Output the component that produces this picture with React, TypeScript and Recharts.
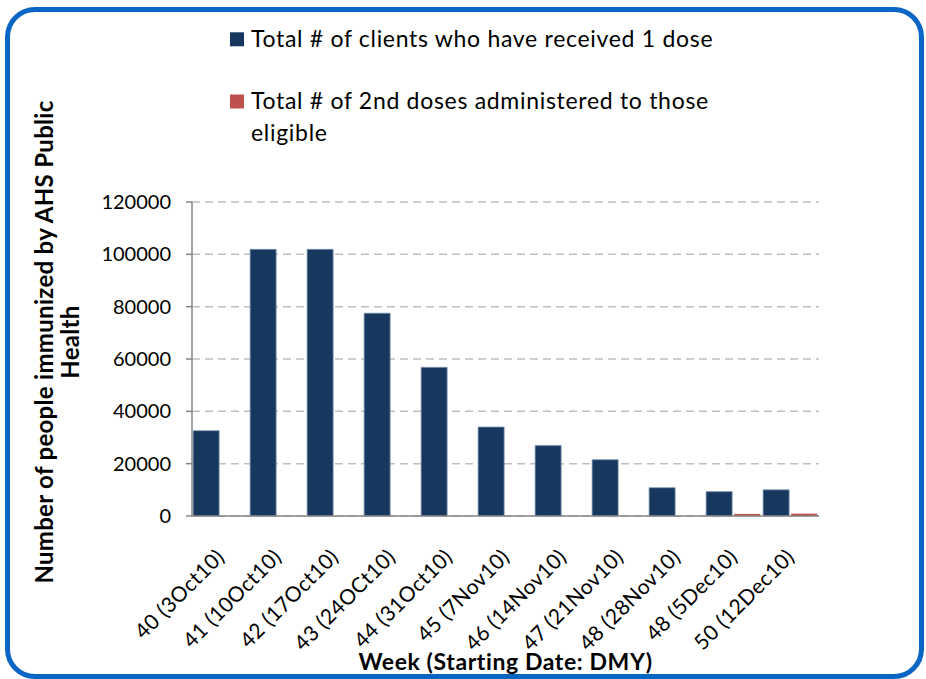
import React from "react";
import { BarChart, Bar, XAxis, YAxis, CartesianGrid, Label } from "recharts";

const categories = [
  "40 (3Oct10)",
  "41 (10Oct10)",
  "42 (17Oct10)",
  "43 (24OCt10)",
  "44 (31Oct10)",
  "45 (7Nov10)",
  "46 (14Nov10)",
  "47 (21Nov10)",
  "48 (28Nov10)",
  "48 (5Dec10)",
  "50 (12Dec10)",
];
const firstDose = [32600, 101900, 101900, 77500, 56800, 34000, 26900, 21500, 10800, 9300, 10000];
const secondDose = [0, 0, 0, 0, 0, 0, 0, 0, 0, 800, 900];
const yTicks = [0, 20000, 40000, 60000, 80000, 100000, 120000];
const boundaryTicks = [0, 1, 2, 3, 4, 5, 6, 7, 8, 9, 10, 11];

const series = [
  { key: "first", name: "Total # of clients who have received 1 dose", lines: ["Total # of clients who have received 1 dose"], color: "#17375E" },
  { key: "second", name: "Total # of 2nd doses administered to those eligible", lines: ["Total # of 2nd doses administered to those", "eligible"], color: "#C0504D" },
];

const data = categories.map((c, i) => ({ week: c, first: firstDose[i], second: secondDose[i] }));

const FONT = "Lato, 'Open Sans', sans-serif";

const XTick = (props: any) => {
  const { x, y, payload } = props;
  return (
    <g transform={`translate(${x},${y + 28})`}>
      <text transform="rotate(-45)" textAnchor="end" dy="0.35em" fontFamily={FONT} fontSize={21} letterSpacing={0.4} fill="#000">
        {payload.value}
      </text>
    </g>
  );
};

const YLabel = (props: any) => {
  const vb = props.viewBox || {};
  const cy = vb.y + vb.height / 2 - 17;
  return (
    <g fontFamily={FONT} fontSize={24} fontWeight="bold" letterSpacing={0.3} fill="#000">
      <text x={43} y={cy} transform={`rotate(-90, 43, ${cy})`} textAnchor="middle" dominantBaseline="central">
        Number of people immunized by AHS Public
      </text>
      <text x={69} y={cy} transform={`rotate(-90, 69, ${cy})`} textAnchor="middle" dominantBaseline="central">
        Health
      </text>
    </g>
  );
};

const XLabel = (props: any) => {
  const vb = props.viewBox || {};
  return (
    <text x={vb.x + vb.width / 2} y={vb.y + vb.height - 18} textAnchor="middle" dominantBaseline="central" fontFamily={FONT} fontSize={23} letterSpacing={0.6} fontWeight="bold" fill="#000">
      Week (Starting Date: DMY)
    </text>
  );
};

export default function App() {
  const legendBaselines = [[46.7], [109.3, 140.7]];
  const squareTops = [32.3, 94.5];
  return (
    <div style={{ position: "absolute", left: 0, top: 0, width: 926, height: 679, background: "#fff", overflow: "hidden" }}>
      <div
        style={{
          position: "absolute",
          left: 5,
          top: 7,
          width: 909,
          height: 662,
          border: "5px solid #0A66C4",
          borderRadius: 30,
        }}
      />
      <BarChart
        width={926}
        height={679}
        data={data}
        margin={{ top: 202, right: 107, bottom: 0, left: 0 }}
        barCategoryGap="2%"
        barGap={2}
        style={{ position: "absolute", left: 0, top: 0 }}
      >
        <CartesianGrid vertical={false} stroke="#BFBFBF" strokeWidth={1.5} strokeDasharray="8 5" yAxisId={0} xAxisId="cat" />
        <XAxis
          xAxisId="b"
          type="number"
          domain={[0, 11]}
          ticks={boundaryTicks}
          allowDataOverflow
          height={1}
          tick={false}
          tickSize={6}
          axisLine={{ stroke: "#868686", strokeWidth: 1.5 }}
          tickLine={{ stroke: "#868686", strokeWidth: 1.5 }}
        />
        <XAxis
          xAxisId="cat"
          dataKey="week"
          type="category"
          height={162}
          axisLine={false}
          tickLine={false}
          interval={0}
          tick={<XTick />}
        >
          <Label content={<XLabel />} />
        </XAxis>
        <YAxis
          domain={[0, 120000]}
          ticks={yTicks}
          width={192}
          tickSize={6}
          tickMargin={15}
          interval={0}
          axisLine={{ stroke: "#868686", strokeWidth: 1.5 }}
          tickLine={{ stroke: "#868686", strokeWidth: 1.5 }}
          tick={{ fontFamily: FONT, fontSize: 20, fill: "#000" }}
        >
          <Label content={<YLabel />} />
        </YAxis>
        <Bar xAxisId="cat" dataKey="first" name={series[0].name} fill={series[0].color} stroke="#7890AE" strokeWidth={0.8} isAnimationActive={false} />
        <Bar xAxisId="cat" dataKey="second" name={series[1].name} fill={series[1].color} isAnimationActive={false} />
      </BarChart>
      <svg width={926} height={679} style={{ position: "absolute", left: 0, top: 0, pointerEvents: "none" }}>
        {series.map((s, i) => (
          <g key={s.key}>
            <rect x={230} y={squareTops[i]} width={14} height={14} fill={s.color} />
            {s.lines.map((ln, j) => (
              <text key={j} x={251} y={legendBaselines[i][j]} fontFamily={FONT} fontSize={23} letterSpacing={0.7} fill="#000">
                {ln}
              </text>
            ))}
          </g>
        ))}
      </svg>
    </div>
  );
}
